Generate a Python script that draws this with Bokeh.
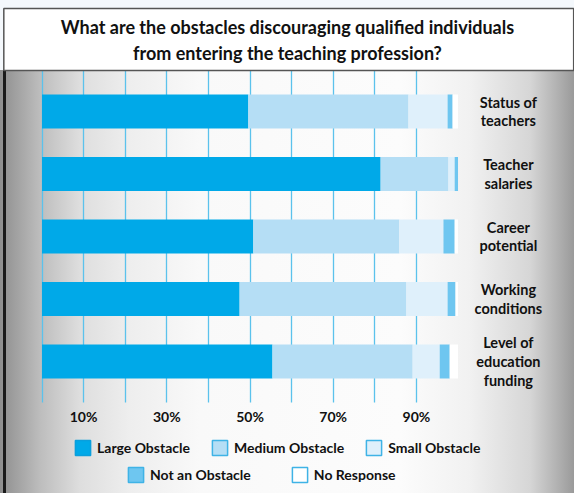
from bokeh.plotting import figure
from bokeh.models import (ColumnDataSource, Range1d, FixedTicker, PrintfTickFormatter,
                          Legend, LegendItem, BoxAnnotation, Label)
from bokeh.core.properties import value
from bokeh.embed import file_html
from bokeh.resources import INLINE

# ---------------- data ----------------
categories = ["Status of\nteachers", "Teacher\nsalaries", "Career\npotential",
              "Working\nconditions", "Level of\neducation\nfunding"]
series = ["Large Obstacle", "Medium Obstacle", "Small Obstacle", "Not an Obstacle", "No Response"]
large_obstacle = [49.6, 81.4, 50.8, 47.5, 55.4]
medium_obstacle = [38.5, 16.3, 35.1, 40.1, 33.7]
small_obstacle = [9.4, 1.5, 10.6, 9.9, 6.5]
not_an_obstacle = [1.2, 0.8, 2.7, 1.9, 2.4]
no_response = [1.3, 0.0, 0.8, 0.6, 2.0]
tick_values = [10, 30, 50, 70, 90]
grid_values = [0, 10, 20, 30, 40, 50, 60, 70, 80, 90]
title_text = "What are the obstacles discouraging qualified individuals\nfrom entering the teaching profession?"

# ---------------- styles ----------------
fill_colors = ["#00a9e8", "#b5def5", "#dff0fb", "#6ec6f0", "#ffffff"]
border_colors = ["#0a9fdc", "#3fb3e6", "#3fb3e6", "#3fb3e6", "#3fb3e6"]
FONT = "Lato"
AXIS_Y = -0.656          # where the percentage axis sits (bottom of the grid area)
GRID_TOP = 4.656         # top of the grid area (under the title box)
NAN = float("nan")

n = len(categories)
ys = [n - 1 - i for i in range(n)]
source = ColumnDataSource(data={
    "y": ys,
    "label": categories,
    series[0]: large_obstacle,
    series[1]: medium_obstacle,
    series[2]: small_obstacle,
    series[3]: not_an_obstacle,
    series[4]: no_response,
})

p = figure(width=574, height=493,
           x_range=Range1d(-9.976, 128.0), y_range=Range1d(-2.112, 5.776),
           output_backend="svg", toolbar_location=None, y_axis_location=None,
           min_border_left=0, min_border_right=0, min_border_top=0, min_border_bottom=0,
           background_fill_color=None, border_fill_color=None, outline_line_color=None)

p.styles = {
    "background": (
        "linear-gradient(to bottom, #f4f8fc 0px, #f4f8fc 70px, transparent 70px),"
        "linear-gradient(to right, transparent 3px, #1a1a1a 3px, #1a1a1a 6px, transparent 6px),"
        "linear-gradient(to right, #8e8e8e 0px, #bdbdbd 40px, #dedede 80px, #eeeeee 130px,"
        " #f9f9f9 200px, #fcfcfc 400px, #f1f1f1 470px, #d6d6d6 530px, #ababab 562px, #9a9a9a 574px)"
    )
}

# grid
p.ygrid.visible = False
p.xgrid.ticker = FixedTicker(ticks=grid_values)
p.xgrid.grid_line_color = "#5bc2ec"
p.xgrid.grid_line_width = 1.3
p.xgrid.cross_bounds = (AXIS_Y, GRID_TOP)

# axis
ax = p.xaxis[0]
ax.fixed_location = AXIS_Y
ax.ticker = FixedTicker(ticks=tick_values)
ax.formatter = PrintfTickFormatter(format="%d%%")
ax.axis_line_color = None
ax.major_tick_line_color = None
ax.minor_tick_line_color = None
ax.major_tick_out = 0
ax.major_tick_in = 0
ax.major_label_standoff = 5
ax.major_label_text_font = FONT
ax.major_label_text_font_style = "bold"
ax.major_label_text_font_size = "14px"
ax.major_label_text_color = "#111111"

# bars
bars = p.hbar_stack(series, y="y", height=0.544, fill_color=fill_colors,
                    line_color=None, source=source)

# category labels on the right
p.text(x=112.1, y="y", text="label", source=source,
       text_font=value(FONT), text_font_style="bold", text_font_size="14.5px",
       text_align="center", text_baseline="middle", text_line_height=1.1,
       text_color="#111111")

# title box
p.add_layout(BoxAnnotation(left=-9.18, right=127.8, top=5.648, bottom=4.656,
                           fill_color="white", fill_alpha=1.0,
                           line_color="#555555", line_alpha=1.0, line_width=1.5,
                           line_dash="solid"))
p.add_layout(Label(x=59.0, y=5.144, text=title_text, text_align="center",
                   text_baseline="middle", text_font=FONT, text_font_style="bold",
                   text_font_size="18px", text_line_height=1.17, text_color="#111111"))

# legend swatch outlines (NaN-only renderers: draw nothing in the plot, only in the legend)
borders = [p.hbar(y=[NAN], right=[NAN], height=0.5, fill_color=None,
                  line_color=border_colors[i], line_width=1.5) for i in range(len(series))]
items = [LegendItem(label=series[i], renderers=[bars[i], borders[i]]) for i in range(len(series))]

common = dict(orientation="horizontal", glyph_width=19, glyph_height=19, label_height=19,
              label_standoff=5, padding=0, margin=0, background_fill_alpha=0,
              border_line_color=None,
              label_text_font=FONT, label_text_font_style="bold", label_text_font_size="14px",
              label_text_color="#111111", label_text_baseline="middle")
leg1 = Legend(items=items[:3], location=(73, 36), spacing=20, **common)
leg2 = Legend(items=items[3:], location=(126, 9), spacing=39, **common)
p.add_layout(leg1)
p.add_layout(leg2)

open("out.html", "w").write(file_html(p, INLINE))
